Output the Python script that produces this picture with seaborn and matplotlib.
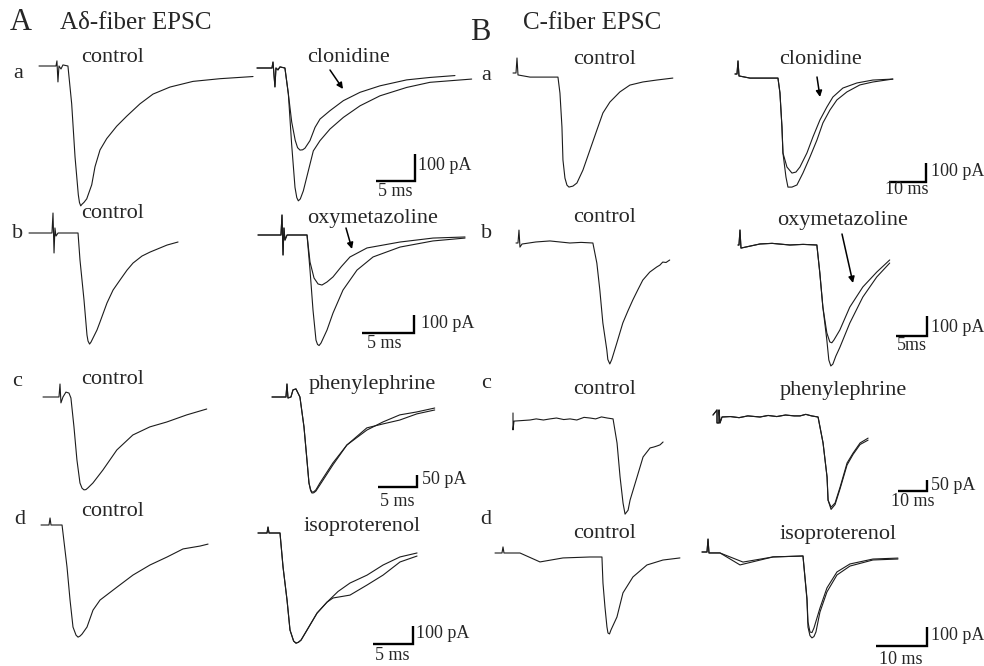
import matplotlib
matplotlib.use("Agg")
import matplotlib.pyplot as plt
import seaborn as sns

# ---------------- traces: time in ms, current in pA (0 = baseline) ----------------
# A a  (control / clonidine)
aa_ctrl_t = [0, 2.18, 2.30, 2.43, 2.56, 2.82, 3.07, 3.71, 4.19, 4.62, 5.04, 5.19, 5.35, 5.51,
             5.77, 6.12, 6.76, 7.18, 7.82, 8.68, 9.96, 11.24, 12.95, 14.62, 16.79, 19.74,
             23.21, 27.44]
aa_ctrl_i = [0, 0, 19, -59, 0, -11, 4, 0, -140, -337, -477, -506, -518, -512,
             -505, -492, -440, -373, -311, -269, -223, -186, -140, -104, -78, -57,
             -47, -39]
aa_pre_t = [0, 1.92, 2.05, 2.30, 2.43, 2.69, 2.94, 3.58, 4.02]
aa_pre_i = [0, 0, 22, -70, 0, -7, 4, 0, -96]
aa_clon_t = aa_pre_t + [4.45, 4.90, 5.20, 5.51, 5.85, 6.15, 6.79, 7.44, 8.08, 9.36, 11.07,
                        13.21, 15.77, 19.19, 22.18, 25.38]
aa_clon_i = aa_pre_i + [-200, -268, -295, -304, -303, -297, -269, -220, -189, -158, -121,
                        -90, -66, -44, -35, -28]
aa_cont_t = aa_pre_t + [4.44, 4.87, 5.10, 5.30, 5.55, 5.94, 6.58, 7.22, 8.08, 9.36, 11.07,
                        13.21, 15.77, 19.19, 22.18, 27.52]
aa_cont_i = aa_pre_i + [-282, -442, -480, -492, -485, -455, -381, -307, -269, -226, -183,
                        -140, -103, -72, -53, -41]

# A b  (control / oxymetazoline)
ab_ctrl_t = [0, 2.23, 2.33, 2.43, 2.52, 2.62, 2.82, 4.76, 4.95, 5.34, 5.63, 5.73, 5.88,
             6.02, 6.21, 6.60, 6.89, 7.57, 8.16, 8.84, 9.52, 10.10, 10.97, 11.75, 13.40, 14.47]
ab_ctrl_i = [0, 0, 111, -111, 28, -17, 0, 0, -150, -372, -567, -600, -617,
             -606, -584, -539, -495, -389, -317, -261, -206, -167, -128, -106, -67, -50]
ab_pre_t = [0, 2.23, 2.33, 2.43, 2.52, 2.62, 2.82, 4.76]
ab_pre_i = [0, 0, 111, -111, 39, -28, 0, 0]
ab_oxy_t = ab_pre_t + [5.05, 5.44, 5.83, 6.21, 6.70, 7.28, 8.10, 8.93, 10.58, 13.79, 16.99, 20.10]
ab_oxy_i = ab_pre_i + [-150, -239, -272, -278, -261, -233, -175, -122, -72, -39, -17, -11]
ab_cont_t = ab_pre_t + [5.05, 5.34, 5.63, 5.78, 5.93, 6.12, 6.70, 7.28, 8.25, 9.61, 11.17,
                        13.79, 16.99, 20.10]
ab_cont_i = ab_pre_i + [-195, -417, -584, -608, -614, -600, -528, -434, -306, -195, -122,
                        -67, -33, -17]

# A c  (control / phenylephrine)
ac_ctrl_t = [0, 2.05, 2.18, 2.30, 2.56, 2.94, 3.33, 3.58, 3.97, 4.35, 4.74, 5.00, 5.25,
             5.50, 5.76, 6.40, 7.68, 9.47, 11.52, 13.70, 15.87, 18.43, 20.99]
ac_ctrl_i = [0, 0, 53, -24, 0, 20, 16, -4, -122, -257, -351, -372, -379,
             -378, -371, -351, -298, -216, -155, -122, -102, -73, -49]
ac_pre_t = [0, 1.79, 1.92, 2.05, 2.43, 2.69, 3.07, 3.58, 4.10, 4.48, 4.74]
ac_pre_i = [0, 0, 53, -4, 0, 29, 33, 0, -122, -257, -351]
ac_phe_t = ac_pre_t + [4.95, 5.12, 5.35, 5.63, 6.14, 7.81, 9.60, 12.16, 14.21, 16.38, 18.56, 20.86]
ac_phe_i = ac_pre_i + [-378, -388, -387, -379, -351, -269, -196, -135, -102, -73, -61, -45]
ac_cont_t = ac_pre_t + [4.95, 5.12, 5.35, 5.63, 6.14, 7.81, 9.60, 12.16, 14.21, 16.38, 18.56, 20.86]
ac_cont_i = ac_pre_i + [-382, -392, -391, -384, -359, -277, -196, -126, -110, -94, -69, -53]

# A d  (control / isoproterenol)
ad_ctrl_t = [0, 1.00, 1.13, 1.25, 2.63, 3.25, 3.63, 4.00, 4.38, 4.63, 4.88, 5.13, 5.75,
             6.50, 7.38, 9.50, 11.50, 13.63, 15.75, 17.75, 19.88, 20.88]
ad_ctrl_i = [0, 0, 39, 0, 0, -233, -417, -567, -612, -623, -617, -606, -567,
             -473, -417, -345, -278, -222, -178, -133, -117, -106]
ad_pre_t = [0, 1.13, 1.25, 1.38, 2.75, 3.13, 3.63, 4.00, 4.45, 4.75, 5.05, 5.38, 6.13,
            7.38, 8.63]
ad_pre_i = [0, 0, 33, 0, 0, -189, -373, -539, -600, -612, -607, -595, -539,
            -445, -384]
ad_iso_t = ad_pre_t + [10.0, 11.50, 13.63, 15.63, 17.75, 19.88]
ad_iso_i = ad_pre_i + [-325, -278, -234, -178, -133, -111]
ad_cont_t = ad_pre_t + [9.38, 11.50, 13.63, 15.63, 17.75, 19.88]
ad_cont_i = ad_pre_i + [-361, -345, -289, -234, -161, -128]

# B a  (control / clonidine)
ba_ctrl_t = [0, 0.81, 1.08, 1.35, 4.59, 12.15, 12.69, 13.23, 13.50, 14.04, 14.58, 15.12,
             16.20, 17.28, 18.90, 20.79, 22.68, 24.30, 26.19, 28.89, 31.59, 35.10, 38.88, 43.20]
ba_ctrl_i = [0, 0, 77, -10, -21, -21, -103, -277, -446, -539, -575, -585,
             -580, -564, -498, -395, -292, -205, -149, -97, -62, -46, -36, -26]
ba_pre_t = [0, 0.54, 0.81, 1.08, 4.05, 11.61, 12.15, 12.69, 12.96]
ba_pre_i = [0, 0, 67, -10, -21, -21, -97, -272, -405]
ba_clon_t = ba_pre_t + [14.04, 15.39, 16.47, 17.55, 19.44, 21.06, 22.95, 24.84, 26.46, 29.16,
                        32.94, 37.26, 42.66]
ba_clon_i = ba_pre_i + [-477, -508, -503, -477, -405, -323, -236, -169, -118, -72,
                        -46, -31, -26]
ba_cont_t = ba_pre_t + [13.77, 14.31, 15.39, 16.74, 18.36, 20.25, 22.14, 23.76, 25.65, 27.54,
                        30.24, 33.75, 37.26, 42.66]
ba_cont_i = ba_pre_i + [-528, -580, -580, -569, -508, -426, -339, -251, -185, -133,
                        -92, -56, -41, -26]

# B b  (control / oxymetazoline)
bb_ctrl_t = [0, 0.32, 0.48, 0.64, 0.97, 3.2, 5.47, 8.69, 10.5, 12.40, 13.04, 13.52, 14.01,
             14.65, 14.81, 15.13, 15.45, 16.26, 17.23, 18.04, 18.84, 19.64, 20.45, 21.57,
             22.70, 23.2, 23.67, 24.2, 24.79]
bb_ctrl_i = [0, 0, 63, -20, -5, 5, 10, 0, 3, 0, -98, -229, -390,
             -522, -568, -590, -568, -488, -390, -332, -278, -229, -181, -142,
             -117, -108, -93, -95, -83]
bb_pre_t = [0, 0.16, 0.32, 0.48, 3.54, 5.5, 8.37, 10.5, 12.72, 13.20, 13.69]
bb_pre_i = [0, 0, 73, -15, 5, 8, 0, 3, 0, -137, -303]
bb_oxy_t = bb_pre_t + [14.33, 14.81, 15.13, 15.46, 16.42, 18.03, 20.13, 22.38, 24.47]
bb_oxy_i = bb_pre_i + [-429, -473, -477, -464, -415, -303, -205, -132, -73]
bb_cont_t = bb_pre_t + [14.33, 14.65, 14.97, 15.30, 15.78, 16.42, 18.03, 20.13, 22.38, 24.47]
bb_cont_i = bb_pre_i + [-464, -561, -590, -581, -542, -500, -381, -254, -156, -88]

# B c  (control / phenylephrine)
bc_ctrl_t = [0, 0, 0.34, 5.87, 8.0, 10.5, 12.77, 15.0, 17.5, 19.67, 22.0, 24.5, 26.57,
             28.5, 30.5, 32.5, 34.50, 35.88, 36.92, 37.95, 38.64, 39.68, 40.37, 42.78,
             44.85, 47.27, 48.5, 49.68, 50.7, 51.75]
bc_ctrl_i = [32, -45, -5, 0, 5, 0, 5, 9, 2, 5, 0, 12, 9,
             5, 14, 9, 5, -105, -259, -378, -428, -410, -364, -259,
             -168, -127, -123, -118, -113, -100]
bc_pre_t = [0, 1.38, 1.38, 2.07, 2.07, 2.42, 3.11, 6.0, 9.0, 12.0, 16.22, 19.0, 22.0,
            25.0, 28.0, 30.02, 32.0, 34.0, 36.23, 37.95, 39.33, 39.68]
bc_pre_i = [9, 32, -27, -27, 32, -27, 0, 2, -3, 5, 0, 7, 2,
            9, 5, 5, 12, 5, 0, -118, -273, -378]
bc_phe_t = bc_pre_t + [40.71, 42.09, 43.82, 46.23, 48.30, 50.72, 53.48]
bc_phe_i = bc_pre_i + [-410, -391, -319, -209, -164, -118, -96]
bc_cont_t = bc_pre_t + [40.71, 42.09, 43.82, 46.23, 48.30, 50.72, 53.48]
bc_cont_i = bc_pre_i + [-420, -398, -326, -218, -170, -125, -105]

# B d  (control / isoproterenol)
bd_ctrl_t = [0, 1.37, 1.57, 1.76, 4.90, 8.82, 13.33, 18.62, 20.97, 21.17, 21.56, 21.95,
             22.15, 22.45, 22.74, 23.91, 25.09, 27.05, 29.79, 32.93, 36.26]
bd_ctrl_i = [0, 0, 32, 0, 0, -47, -26, -21, -21, -158, -284, -389,
             -421, -426, -405, -337, -210, -126, -63, -37, -26]
bd_pre_t = [0, 0.98, 1.18, 1.37, 3.53]
bd_pre_i = [0, 0, 68, -5, -5]
bd_cont_t = bd_pre_t + [7.45, 13.92, 19.80, 20.58, 20.78, 21.17, 21.56, 21.95, 22.34, 23.13,
                        24.50, 26.46, 29.01, 33.52, 38.42]
bd_cont_i = bd_pre_i + [-68, -26, -21, -252, -395, -440, -452, -445, -421, -316,
                        -210, -121, -74, -42, -37]
bd_iso_t = bd_pre_t + [8.04, 13.92, 19.80, 20.58, 20.78, 21.17, 21.56, 21.95, 23.13, 24.50,
                       26.46, 29.01, 33.52, 38.42]
bd_iso_i = bd_pre_i + [-53, -26, -21, -242, -368, -421, -424, -400, -295, -189,
                       -105, -63, -37, -32]

W, H = 984, 666
INK = "#1c1c1c"
SERIF = ["Liberation Serif", "DejaVu Serif"]

sns.set_style("white")
plt.rcParams["font.family"] = SERIF

fig = plt.figure(figsize=(W / 100, H / 100), dpi=100)


def panel(x0, y0, ppm, ppp):
    # axes over the whole figure, scaled so t=0 / baseline sits at pixel (x0, y0)
    ax = fig.add_axes([0, 0, 1, 1])
    ax.set_xlim(-x0 / ppm, (W - x0) / ppm)
    ax.set_ylim((y0 - H) / ppp, y0 / ppp)
    ax.set_axis_off()
    ax.patch.set_alpha(0)
    return ax


def trace(ax, t, i):
    sns.lineplot(x=t, y=i, ax=ax, sort=False, estimator=None, errorbar=None,
                 color=INK, lw=0.8)


def scalebar(ax, x0, y0, ppm, ppp, cx, cy, ms, pa):
    tc = (cx - x0) / ppm
    ic = (y0 - cy) / ppp
    ax.plot([tc - ms, tc, tc], [ic, ic, ic + pa], color="black", lw=1.7,
            solid_joinstyle="miter", solid_capstyle="butt")


# row A a
ax = panel(39, 66, 7.8, 0.27); trace(ax, aa_ctrl_t, aa_ctrl_i)
ax = panel(257, 68, 7.8, 0.27); trace(ax, aa_clon_t, aa_clon_i); trace(ax, aa_cont_t, aa_cont_i)
scalebar(ax, 257, 68, 7.8, 0.27, 415, 181, 5, 100)
# row A b
ax = panel(29, 233, 10.3, 0.18); trace(ax, ab_ctrl_t, ab_ctrl_i)
ax = panel(258, 235, 10.3, 0.18); trace(ax, ab_oxy_t, ab_oxy_i); trace(ax, ab_cont_t, ab_cont_i)
scalebar(ax, 258, 235, 10.3, 0.18, 414, 333, 5, 100)
# row A c
ax = panel(43, 397, 7.8, 0.245); trace(ax, ac_ctrl_t, ac_ctrl_i)
ax = panel(272, 397, 7.8, 0.245); trace(ax, ac_phe_t, ac_phe_i); trace(ax, ac_cont_t, ac_cont_i)
scalebar(ax, 272, 397, 7.8, 0.245, 417, 487, 5, 50)
# row A d
ax = panel(41, 525, 8.0, 0.18); trace(ax, ad_ctrl_t, ad_ctrl_i)
ax = panel(258, 533, 8.0, 0.18); trace(ax, ad_iso_t, ad_iso_i); trace(ax, ad_cont_t, ad_cont_i)
scalebar(ax, 258, 533, 8.0, 0.18, 413, 644, 5, 100)
# row B a
ax = panel(513, 73, 3.7, 0.195); trace(ax, ba_ctrl_t, ba_ctrl_i)
ax = panel(735, 74, 3.7, 0.195); trace(ax, ba_clon_t, ba_clon_i); trace(ax, ba_cont_t, ba_cont_i)
scalebar(ax, 735, 74, 3.7, 0.195, 926, 182, 10, 100)
# row B b
ax = panel(516, 243, 6.2, 0.205); trace(ax, bb_ctrl_t, bb_ctrl_i)
ax = panel(738, 245, 6.2, 0.205); trace(ax, bb_oxy_t, bb_oxy_i); trace(ax, bb_cont_t, bb_cont_i)
scalebar(ax, 738, 245, 6.2, 0.205, 927, 336, 5, 100)
# row B c
ax = panel(513, 420, 2.9, 0.22); trace(ax, bc_ctrl_t, bc_ctrl_i)
ax = panel(713, 417, 2.9, 0.22); trace(ax, bc_phe_t, bc_phe_i); trace(ax, bc_cont_t, bc_cont_i)
scalebar(ax, 713, 417, 2.9, 0.22, 927, 491, 10, 50)
# row B d
ax = panel(495, 553, 5.1, 0.19); trace(ax, bd_ctrl_t, bd_ctrl_i)
ax = panel(702, 552, 5.1, 0.19); trace(ax, bd_iso_t, bd_iso_i); trace(ax, bd_cont_t, bd_cont_i)
scalebar(ax, 702, 552, 5.1, 0.19, 927, 646, 10, 100)

# ---------------- text overlay in pixel coordinates ----------------
tx = fig.add_axes([0, 0, 1, 1])
tx.set_xlim(0, W)
tx.set_ylim(H, 0)
tx.set_axis_off()
tx.patch.set_alpha(0)

tx.text(21, 23, "A", fontsize=22, ha="center", va="center")
tx.text(60, 23, "Aδ-fiber EPSC", fontsize=18, ha="left", va="center")
tx.text(480, 32, "B", fontsize=22, ha="center", va="center")
tx.text(523, 23, "C-fiber EPSC", fontsize=18, ha="left", va="center")

for x, y, s in [(18, 74, "a"), (18, 233, "b"), (17, 382, "c"), (20, 519, "d"),
                (486, 76, "a"), (487, 234, "b"), (486, 383, "c"), (486, 520, "d")]:
    tx.text(x, y, s, fontsize=16, ha="center", va="center")

labels = [(113, 58, "control"), (349, 58, "clonidine"),
          (605, 60, "control"), (821, 60, "clonidine"),
          (113, 214, "control"), (373, 218, "oxymetazoline"),
          (605, 217, "control"), (843, 221, "oxymetazoline"),
          (113, 379, "control"), (372, 384, "phenylephrine"),
          (605, 389, "control"), (843, 390, "phenylephrine"),
          (113, 512, "control"), (362, 527, "isoproterenol"),
          (605, 534, "control"), (838, 534, "isoproterenol")]
for x, y, s in labels:
    tx.text(x, y, s, fontsize=16, ha="center", va="center")

bars = [(418, 165, 395, 191, "100 pA", "5 ms"),
        (421, 324, 384, 344, "100 pA", "5 ms"),
        (422, 480, 397, 502, "50 pA", "5 ms"),
        (416, 634, 392, 655, "100 pA", "5 ms"),
        (931, 172, 907, 190, "100 pA", "10 ms"),
        (931, 327, 912, 346, "100 pA", "5ms"),
        (931, 485, 913, 501, "50 pA", "10 ms"),
        (931, 636, 901, 659, "100 pA", "10 ms")]
for px, py, mx, my, ps, ms in bars:
    tx.text(px, py, ps, fontsize=13, ha="left", va="center")
    tx.text(mx, my, ms, fontsize=13, ha="center", va="center")

arrow = dict(arrowstyle="-|>", lw=1.1, color="black", mutation_scale=9,
             shrinkA=0, shrinkB=0)
for (sx, sy), (ex, ey) in [((330, 70), (343, 89)), ((346, 228), (352, 249)),
                           ((817, 77), (820, 97)), ((842, 234), (853, 283))]:
    tx.annotate("", xy=(ex, ey), xytext=(sx, sy), arrowprops=arrow)

fig.savefig("out.png", dpi=100)
